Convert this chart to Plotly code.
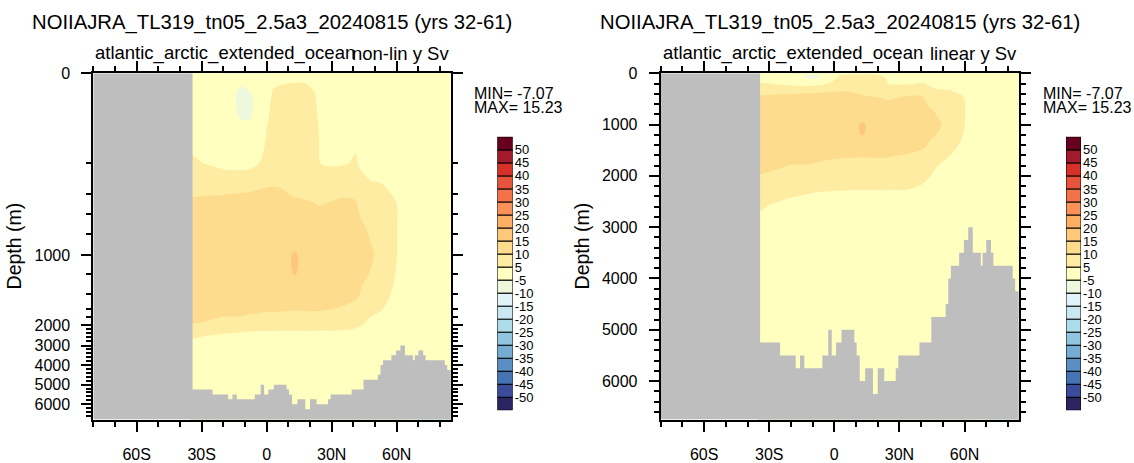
import numpy as np
import plotly.graph_objects as go

FONT = "Liberation Sans"
W, H = 1134, 463

TITLE = "NOIIAJRA_TL319_tn05_2.5a3_20240815 (yrs 32-61)"
BASIN = "atlantic_arctic_extended_ocean"
PANEL_TAGS = ["non-lin y Sv", "linear y Sv"]

# overturning streamfunction (Sv): one profile per latitude, values at DEPTHS
LATS = [-35, -28, -20, -12, -8, -3, 0, 3, 8, 13, 18, 22, 25, 30, 36, 41, 44, 48, 53, 57, 60, 63, 70, 85]
DEPTHS = [0, 20, 50, 100, 150, 200, 300, 400, 500, 700, 1000, 1200, 1400, 1600, 1800, 2000,
          2300, 2600, 3000, 4000, 5000, 6000, 6750]
PSI = [
    [0, 0.8, 1.5, 2.8, 4.0, 5.8, 8.0, 9.5, 11.0, 12.0, 12.8, 12.8, 12.3, 11.5, 10.7, 9.9, 7.8, 5.6, 3.8, 2.0, 1.0, 0.5, 0],  # -35
    [0, 0.5, 1.2, 2.2, 3.5, 4.8, 7.5, 9.8, 11.2, 12.3, 13.0, 13.0, 12.4, 11.5, 10.5, 9.5, 7.0, 4.5, 3.2, 1.8, 1.0, 0.5, 0],  # -28
    [0, 0.2, 0.8, 1.8, 3.0, 4.0, 6.5, 9.9, 11.3, 12.5, 13.2, 13.1, 12.4, 11.2, 9.9, 8.6, 5.8, 3.9, 3.0, 1.7, 0.9, 0.4, 0],  # -20
    [-1.0, -4.0, -7.07, -5.5, -1.0, 3.5, 6.8, 10.3, 11.5, 12.7, 13.5, 13.4, 12.6, 11.3, 9.8, 8.3, 5.3, 3.6, 2.8, 1.6, 0.8, 0.3, 0],  # -12
    [-0.8, -3.5, -5.8, -5.3, -0.5, 3.8, 7.0, 10.5, 11.7, 12.9, 13.8, 13.7, 12.8, 11.2, 9.4, 8.0, 5.1, 3.5, 2.7, 1.5, 0.8, 0.3, 0],  # -8
    [0, -1.5, -3.0, -3.5, 1.0, 5.2, 8.0, 11.0, 12.0, 13.2, 14.0, 13.9, 12.9, 10.8, 9.0, 7.9, 5.0, 3.4, 2.7, 1.5, 0.8, 0.3, 0],  # -3
    [0, 1.0, 2.5, 4.2, 6.0, 7.0, 8.6, 11.0, 12.2, 13.4, 14.2, 14.1, 13.0, 10.6, 8.9, 7.8, 4.9, 3.4, 2.6, 1.5, 0.8, 0.3, 0],  # 0
    [0.5, 4.2, 5.8, 6.8, 7.5, 8.0, 9.2, 10.8, 12.2, 13.5, 14.4, 14.3, 13.1, 10.6, 8.8, 7.7, 4.9, 3.3, 2.6, 1.5, 0.8, 0.3, 0],  # 3
    [1.0, 4.8, 6.2, 7.2, 7.8, 8.3, 9.3, 10.3, 12.0, 13.5, 14.5, 14.4, 13.0, 10.4, 8.7, 7.6, 4.8, 3.2, 2.5, 1.4, 0.7, 0.3, 0],  # 8
    [1.0, 4.9, 6.5, 7.5, 8.0, 8.4, 9.2, 9.7, 10.8, 13.5, 15.23, 15.1, 13.2, 10.3, 8.6, 7.5, 4.8, 3.2, 2.5, 1.4, 0.7, 0.3, 0],  # 13
    [1.0, 4.9, 6.4, 7.3, 7.8, 8.2, 9.0, 9.6, 10.3, 12.8, 14.4, 14.3, 12.9, 10.4, 8.7, 7.5, 4.8, 3.2, 2.5, 1.4, 0.7, 0.3, 0],  # 18
    [0.8, 3.8, 5.4, 6.5, 7.2, 7.8, 8.7, 9.4, 10.1, 12.5, 14.0, 14.0, 12.7, 10.4, 8.7, 7.5, 4.8, 3.2, 2.5, 1.4, 0.7, 0.3, 0],  # 22
    [0.3, 1.5, 2.5, 3.5, 4.3, 4.9, 6.8, 8.4, 9.8, 11.8, 13.5, 13.6, 12.4, 10.3, 8.6, 7.4, 4.7, 3.1, 2.4, 1.3, 0.7, 0.3, 0],  # 25
    [0.2, 1.2, 2.2, 3.2, 4.0, 4.6, 6.5, 8.9, 10.4, 12.0, 13.3, 13.3, 12.1, 10.0, 8.5, 7.3, 4.8, 3.1, 2.4, 1.3, 0.7, 0.3, 0],  # 30
    [0.2, 1.2, 2.3, 3.4, 4.2, 4.8, 6.8, 9.6, 10.8, 12.1, 13.0, 12.8, 11.3, 9.5, 8.0, 6.8, 4.6, 3.0, 2.3, 1.3, 0.7, 0.3, 0],  # 36
    [0.2, 1.5, 2.8, 3.9, 4.6, 5.3, 7.0, 9.2, 10.5, 11.8, 12.6, 12.2, 10.8, 8.8, 7.2, 5.8, 4.2, 2.8, 2.2, 1.2, 0.6, 0.3, 0],  # 41
    [0.1, 1.0, 2.0, 3.0, 3.8, 4.3, 5.6, 7.2, 8.3, 10.2, 11.0, 10.6, 9.5, 7.8, 6.3, 5.1, 3.8, 2.6, 2.0, 1.1, 0.6, 0.3, 0],  # 44
    [0.1, 0.8, 1.6, 2.5, 3.2, 3.7, 4.8, 6.3, 7.4, 9.4, 10.4, 9.8, 8.4, 6.3, 4.9, 4.0, 3.3, 2.3, 1.8, 1.0, 0.5, 0.2, 0],  # 48
    [0.1, 0.6, 1.3, 2.2, 2.9, 3.4, 4.6, 5.9, 6.9, 8.3, 9.0, 8.3, 6.9, 5.1, 4.1, 3.5, 2.9, 2.1, 1.6, 0.9, 0.5, 0.2, 0],  # 53
    [0.1, 0.5, 1.1, 1.8, 2.5, 3.0, 4.0, 5.1, 6.0, 7.0, 7.4, 6.5, 5.1, 3.9, 3.3, 2.8, 2.4, 1.8, 1.4, 0.8, 0.4, 0.2, 0],  # 57
    [0.1, 0.4, 0.9, 1.5, 2.1, 2.6, 3.4, 4.3, 5.05, 5.2, 5.1, 4.5, 3.5, 2.9, 2.5, 2.2, 1.9, 1.5, 1.2, 0.7, 0.4, 0.2, 0],  # 60
    [0.1, 0.3, 0.7, 1.2, 1.6, 2.0, 2.5, 2.8, 3.0, 2.8, 2.6, 2.3, 2.0, 1.8, 1.6, 1.5, 1.3, 1.1, 0.9, 0.5, 0.3, 0.1, 0],  # 63
    [0.1, 0.2, 0.5, 0.8, 1.0, 1.2, 1.4, 1.5, 1.5, 1.4, 1.3, 1.2, 1.1, 1.0, 0.9, 0.8, 0.7, 0.6, 0.5, 0.3, 0.2, 0.1, 0],  # 70
    [0, 0, 0, 0, 0, 0, 0, 0, 0, 0, 0, 0, 0, 0, 0, 0, 0, 0, 0, 0, 0, 0, 0],  # 85
]

# sea floor (step edges in latitude, depth of each step)
BATHY_LAT = [-34.2, -25, -17.8, -15.8, -13.8, -5.5, -2.8, -1.2, 0.8, 3.3, 9.2, 10.3, 11.7, 14.2, 17.8,
             20, 23, 28.3, 29.5, 39.2, 44.7, 51.3, 52.5, 53.7, 57.5, 59.7, 61.7, 63.8, 67.5, 68.3,
             70, 72.2, 73.3, 82.2, 83.3]
BATHY_DEPTH = [5250, 5500, 5750, 5500, 5750, 5500, 5000, 5500, 5250, 5000, 5250, 5500, 6000, 5750, 6250,
               5750, 6000, 5750, 5500, 5250, 4750, 4500, 4000, 3750, 3500, 3250, 3000, 3500, 3750, 3500,
               3250, 3500, 3750, 4000, 4250]

LEVELS = [-50, -45, -40, -35, -30, -25, -20, -15, -10, -5, 5, 10, 15, 20, 25, 30, 35, 40, 45, 50]
# one colour per colorbar box, bottom (< -50) to top (> 50)
LEVEL_COLORS = ["#2c2462", "#3a4c9a", "#4573b3", "#5b8fc3", "#74add1", "#91c4de", "#addbe9",
                "#c8e7f1", "#e0f3f8", "#eef8dc", "#ffffbf", "#ffeca3", "#fedc8e", "#fec77a",
                "#fcae63", "#f99158", "#f4724a", "#e8533b", "#d63028", "#a11b2b", "#67001f"]

LAT_TICKS = [-60, -30, 0, 30, 60]
LAT_LABELS = ["60S", "30S", "0", "30N", "60N"]
LAT_RANGE = [-80, 85]
DEPTH_TICKS = [0, 1000, 2000, 3000, 4000, 5000, 6000]
DEPTH_MAX = 6750

# irregular depth axis of the left panel: depth -> pixels below the top frame
LEFT_AXIS_DEPTH = [0, 200, 400, 600, 800, 1000, 1200, 1400, 1600, 1800, 2000, 3000, 4000, 5000, 6000, 6750]
LEFT_AXIS_PX = [0, 92.3, 124.3, 144.3, 165, 187, 206.5, 227, 242.3, 250.5, 258.5, 279.5, 299.5, 319.7,
                339.7, 355.5]

# page layout in pixels
PANEL_X = [(93.3, 450.9), (660.7, 1018.8)]
PANEL_TOP, PANEL_BOTTOM = 67, 422.5
CBAR_X = [(497.3, 512.7), (1066, 1081)]
CBAR_TOP, CBAR_BOTTOM = 132.3, 413
MINMAX_X = [472.3, 1041]
YLABEL_X = [14, 582]


def fx(px):
    return px / W


def fy(py):
    return 1 - py / H


def left_depth(d):
    return np.interp(d, LEFT_AXIS_DEPTH, LEFT_AXIS_PX)


psi = np.array(PSI).T  # rows = depth
minor_depth = [d for d in range(200, 6800, 200) if d % 1000]
minor_lat = [v for v in range(-80, 81, 10) if v % 30]

band_colors = LEVEL_COLORS[:11] + LEVEL_COLORS[10:]  # -5..0 and 0..5 share a colour
colorscale = [[k / (len(band_colors) - 1), c] for k, c in enumerate(band_colors)]

land_x = [LAT_RANGE[0], LAT_RANGE[0], BATHY_LAT[0]] + BATHY_LAT + [LAT_RANGE[1], LAT_RANGE[1]]
land_d = [DEPTH_MAX, 0, 0] + BATHY_DEPTH + [BATHY_DEPTH[-1], DEPTH_MAX]

fig = go.Figure()
axis_font = {"family": FONT, "size": 16, "color": "black"}

for i, linear in enumerate([False, True]):
    n = "" if i == 0 else "2"
    cb = str(i + 3)
    if linear:
        ydat, yland = DEPTHS, land_d
        yticks, yminor, yrange = DEPTH_TICKS, minor_depth, [DEPTH_MAX, 0]
    else:
        ydat, yland = left_depth(DEPTHS), left_depth(land_d)
        yticks, yminor = left_depth(DEPTH_TICKS), left_depth(minor_depth)
        yrange = [LEFT_AXIS_PX[-1], 0]

    fig.add_trace(go.Contour(
        x=LATS, y=ydat, z=psi, xaxis="x" + n, yaxis="y" + n,
        colorscale=colorscale, autocontour=False,
        contours={"start": -50, "end": 50, "size": 5, "coloring": "fill", "showlines": False},
        line={"width": 0}, showscale=False, hoverinfo="skip",
    ))
    fig.add_trace(go.Scatter(
        x=land_x, y=yland, xaxis="x" + n, yaxis="y" + n, mode="lines",
        line={"width": 0, "shape": "hv"}, fill="toself", fillcolor="#bebebe", hoverinfo="skip",
    ))
    fig.add_trace(go.Bar(
        x=[0] * len(LEVEL_COLORS), y=[1] * len(LEVEL_COLORS), base=list(range(len(LEVEL_COLORS))),
        width=1, marker={"color": LEVEL_COLORS, "line": {"color": "black", "width": 1}},
        xaxis="x" + cb, yaxis="y" + cb, hoverinfo="skip",
    ))

    x0, x1 = PANEL_X[i]
    frame = dict(showline=True, linecolor="black", linewidth=2, mirror="ticks", ticks="outside",
                 ticklen=10, tickwidth=2, tickcolor="black", showgrid=False, zeroline=False,
                 tickfont=axis_font)
    fig.update_layout({
        "xaxis" + n: dict(frame, domain=[fx(x0), fx(x1)], anchor="y" + n, range=LAT_RANGE,
                          tickmode="array", tickvals=LAT_TICKS, ticktext=LAT_LABELS,
                          ticklabelstandoff=9,
                          minor={"tickmode": "array", "tickvals": minor_lat, "ticks": "outside",
                                 "ticklen": 5, "tickwidth": 1.5, "tickcolor": "black"}),
        "yaxis" + n: dict(frame, domain=[fy(PANEL_BOTTOM), fy(PANEL_TOP)], anchor="x" + n,
                          range=yrange, tickmode="array", tickvals=list(yticks),
                          ticktext=[str(d) for d in DEPTH_TICKS], ticklabelstandoff=8,
                          minor={"tickmode": "array", "tickvals": list(yminor), "ticks": "outside",
                                 "ticklen": 5, "tickwidth": 1.5, "tickcolor": "black"}),
        "xaxis" + cb: dict(domain=[fx(CBAR_X[i][0]), fx(CBAR_X[i][1])], anchor="y" + cb,
                           range=[-0.5, 0.5], visible=False),
        "yaxis" + cb: dict(domain=[fy(CBAR_BOTTOM), fy(CBAR_TOP)], anchor="x" + cb, side="right",
                           range=[0, len(LEVEL_COLORS)], tickmode="array",
                           tickvals=list(range(1, len(LEVEL_COLORS))),
                           ticktext=[str(v) for v in LEVELS], ticks="", showgrid=False,
                           zeroline=False, showline=False, ticklabelstandoff=1,
                           tickfont={"family": FONT, "size": 13, "color": "black"}),
    })

    mid = (x0 + x1) / 2
    ann = [
        dict(text=TITLE, x=fx(mid), y=fy(15), xanchor="center", size=20.3),
        dict(text=BASIN, x=fx(x0), y=fy(46.5), xanchor="left", size=18.5),
        dict(text=PANEL_TAGS[i], x=fx(x1), y=fy(46.5), xanchor="right", size=18.5),
        dict(text="MIN= %.2f" % psi.min(), x=fx(MINMAX_X[i]), y=fy(87.3), xanchor="left", size=16),
        dict(text="MAX= %.2f" % psi.max(), x=fx(MINMAX_X[i]), y=fy(102), xanchor="left", size=16),
    ]
    for a in ann:
        fig.add_annotation(text=a["text"], x=a["x"], y=a["y"], xref="paper", yref="paper",
                           xanchor=a["xanchor"], yanchor="middle", showarrow=False,
                           font={"family": FONT, "size": a["size"], "color": "black"})
    fig.add_annotation(text="Depth (m)", x=fx(YLABEL_X[i]), y=fy((PANEL_TOP + PANEL_BOTTOM) / 2),
                       xref="paper", yref="paper", textangle=-90, showarrow=False,
                       xanchor="center", yanchor="middle",
                       font={"family": FONT, "size": 19.5, "color": "black"})

fig.update_layout(
    width=W, height=H, margin={"l": 0, "r": 0, "t": 0, "b": 0},
    paper_bgcolor="white", plot_bgcolor="white", showlegend=False,
    font={"family": FONT, "color": "black"},
)

# pin the figure to the window corner (no page margin)
pin = ("document.body.style.margin='0px';"
       "var gd=document.getElementById('{plot_id}');"
       "gd.style.position='fixed';gd.style.left='0px';gd.style.top='0px';")
fig.write_html("out.html", post_script=pin, config={"displayModeBar": False})
